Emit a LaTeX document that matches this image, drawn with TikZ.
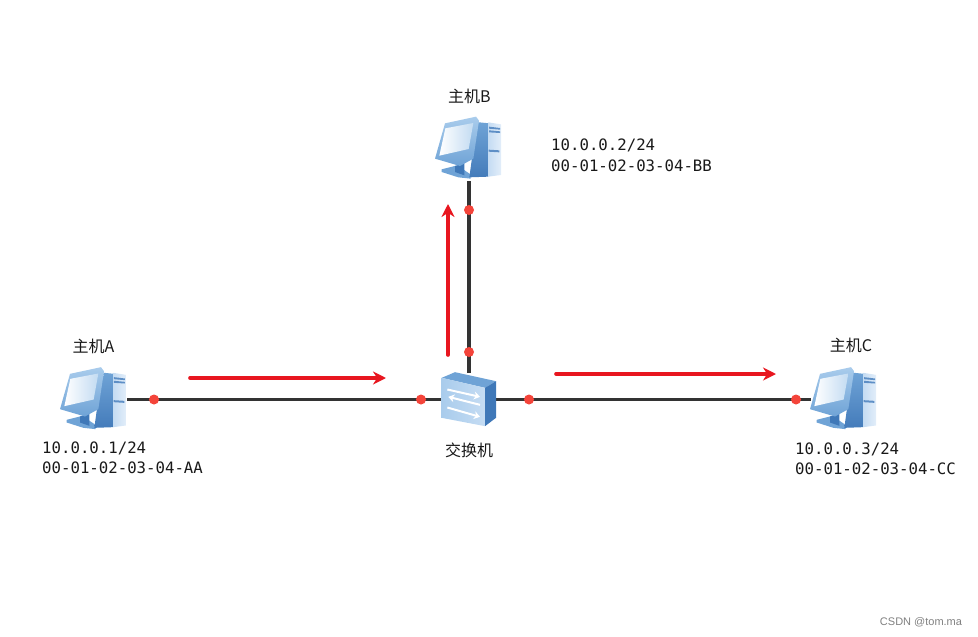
\documentclass[tikz,border=0pt]{standalone}
\usepackage{fontspec}
\setmainfont{Liberation Sans}
\newfontfamily\cjk{Noto Sans CJK SC}
\newfontfamily\monofam{DejaVu Sans Mono}
\usetikzlibrary{arrows.meta}
\definecolor{linkc}{HTML}{333333}
\definecolor{dotc}{HTML}{F4443A}
\definecolor{arrowc}{HTML}{E8161F}
\definecolor{blueA}{HTML}{A9CCEC}
\definecolor{blueB}{HTML}{6FA3D6}
\definecolor{blueC}{HTML}{3F78B8}
\definecolor{blueD}{HTML}{5E8FC6}
\definecolor{blueE}{HTML}{C5DCF3}
\tikzset{
  hostbox/.style={inner sep=0pt,outer sep=0pt,minimum width=66pt,minimum height=64pt},
  switchbox/.style={inner sep=0pt,outer sep=0pt,minimum width=54pt,minimum height=54pt},
  link/.style={draw=linkc,line width=3.2pt},
  portdot/.style={circle,fill=dotc,inner sep=0pt,minimum size=10pt},
  flow/.style={draw=arrowc,line width=3.6pt,-{Stealth[length=13pt,width=13pt]},line cap=round},
  hostname/.style={font=\cjk\fontsize{16}{18}\selectfont,text=black!90,inner sep=0pt},
  addr/.style={font=\monofam\fontsize{15.7}{20}\selectfont,text=black!90,inner sep=0pt,align=left,text width=170pt},
  computer/.pic={
    \begin{scope}[x=0.3333pt,y=-0.3333pt,shift={(-147,-207)}]
      % base
      \fill[blueB] (65,268) -- (112,256) -- (150,282) -- (152,296) -- (115,292) -- (65,276) -- cycle;
      \fill[blueC] (105,258) -- (133,250) -- (133,286) -- (105,276) -- cycle;
      % tower side
      \shade[top color=blueB,bottom color=blueC!85!blueD] (168,126) -- (208,130) -- (205,290) -- (148,292) -- (156,234) -- cycle;
      % tower front
      \shade[left color=blueE,right color=blueE!50!white] (205,127) -- (243,133) -- (243,285) -- (205,290) -- cycle;
      \fill[blueD] (207,140) -- (240,144) -- (240,149) -- (207,146) -- cycle;
      \fill[blueD] (207,151) -- (240,154) -- (240,159) -- (207,157) -- cycle;
      \fill[blueD] (206,209) -- (238,211) -- (238,217) -- (206,215) -- cycle;
      % monitor
      \shade[top color=blueA,bottom color=blueB] (75,130) -- (168,110) -- (177,122) -- (160,236) -- (120,258) -- (45,236) -- cycle;
      \shade[shading=axis,shading angle=135,left color=white,right color=blueA!70] (76,145) -- (160,129) -- (146,207) -- (58,227) -- cycle;
    \end{scope}
  },
  switchart/.pic={
    \begin{scope}[x=0.3333pt,y=-0.3333pt,shift={(-207,-180)}]
      \fill[blueB] (125,115) -- (165,98) -- (288,125) -- (255,145) -- cycle;
      \shade[left color=blueA,right color=blueE] (125,115) -- (255,145) -- (255,260) -- (125,235) -- cycle;
      \fill[blueC] (255,145) -- (288,125) -- (288,235) -- (255,260) -- cycle;
      \begin{scope}[draw=white,line width=2pt,-{Stealth[length=6pt,width=8pt]}]
        \draw (142,150) -- (240,172);
        \draw (240,196) -- (145,172);
        \draw (142,204) -- (240,232);
      \end{scope}
    \end{scope}
  }
}
\begin{document}
\begin{tikzpicture}[x=1pt,y=-1pt]
  \useasboundingbox (0,0) rectangle (978,637);
  \node[hostbox] (hostB) at (469,149) {};
  \node[hostbox] (hostA) at (94,399.5) {};
  \node[hostbox] (hostC) at (844,399.5) {};
  \node[switchbox] (sw) at (469,399.5) {};
  % links
  \draw[link] (hostA.east) -- (sw.west);
  \draw[link] (sw.east) -- (hostC.west);
  \draw[link] (hostB.south) -- (sw.north);
  % devices
  \pic at (hostA) {computer};
  \pic at (hostB) {computer};
  \pic at (hostC) {computer};
  \pic at (sw) {switchart};
  % port dots
  \node[portdot] (pa) at (154,399.5) {};
  \node[portdot] (ps1) at (421,399.5) {};
  \node[portdot] (ps2) at (529,399.5) {};
  \node[portdot] (pc) at (796,399.5) {};
  \node[portdot] (pb) at (469,210) {};
  \node[portdot] (ps3) at (469,352) {};
  % flow arrows
  \coordinate (f1s) at (190,378);
  \coordinate (f1e) at (386,378);
  \coordinate (f2s) at (448,355);
  \coordinate (f2e) at (448,204);
  \coordinate (f3s) at (556,374);
  \coordinate (f3e) at (776,374);
  \draw[flow] (f1s) -- (f1e);
  \draw[flow] (f2s) -- (f2e);
  \draw[flow] (f3s) -- (f3e);
  % labels
  \node[hostname] (la) at (93.5,346) {主机A};
  \node[hostname] (lb) at (469.5,96) {主机B};
  \node[hostname] (lc) at (851,345) {主机C};
  \node[hostname] (ls) at (469,450) {交换机};
  \node[addr,anchor=west] (aa) at (42,448) {10.0.0.1/24};
  \node[addr,anchor=west] (ab) at (42,468) {00-01-02-03-04-AA};
  \node[addr,anchor=west] (ba) at (551,145) {10.0.0.2/24};
  \node[addr,anchor=west] (bb) at (551,166) {00-01-02-03-04-BB};
  \node[addr,anchor=west] (ca) at (795,449) {10.0.0.3/24};
  \node[addr,anchor=west] (cb) at (795,469) {00-01-02-03-04-CC};
  \node[font=\fontsize{11}{13}\selectfont,text=black!50,inner sep=0pt] (wm) at (921,622) {CSDN @tom.ma};
\end{tikzpicture}
\end{document}
